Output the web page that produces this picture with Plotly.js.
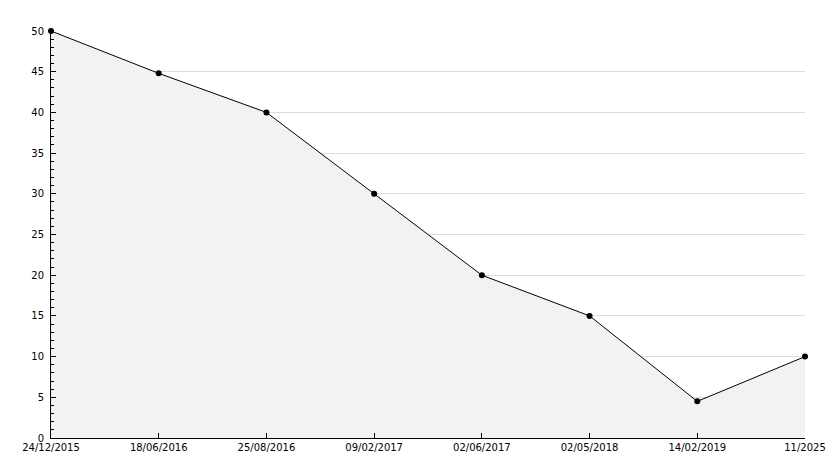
<!DOCTYPE html>
<html><head><meta charset="utf-8">
<script src="https://cdn.plot.ly/plotly-3.0.1.min.js"></script>
<style>html,body{margin:0;padding:0;background:#fff}#c{width:834px;height:468px}</style>
</head><body><div id="c"></div>
<script>
var dates = ['24/12/2015','18/06/2016','25/08/2016','09/02/2017','02/06/2017','02/05/2018','14/02/2019','11/2025'];
var values = [50, 44.8, 40, 30, 20, 15, 4.5, 10];
var yTicks = [0,5,10,15,20,25,30,35,40,45,50];

var lastX = dates[dates.length-1];
var traces = [
  {x: [lastX, lastX], y: [0, values[values.length-1]], type:'scatter', mode:'lines',
   line:{color:'#000', width:1}, hoverinfo:'none'},
  {x: dates, y: values, type:'scatter', mode:'lines+markers', fill:'tozeroy', cliponaxis:false,
   fillcolor:'#f2f2f2', line:{color:'#000', width:1},
   marker:{color:'#000', size:6, symbol:'circle'}, hoverinfo:'none'}
];
var font = {family:'DejaVu Sans, Verdana, sans-serif', size:10, color:'#000'};
var layout = {
  width:834, height:468, showlegend:false,
  paper_bgcolor:'#fff', plot_bgcolor:'#fff',
  margin:{l:51, r:29, t:31, b:30},
  font: font,
  xaxis:{type:'category', categoryorder:'array', categoryarray:dates,
    range:[0, dates.length-1], showgrid:false, zeroline:false,
    showline:true, linecolor:'#000', linewidth:1, ticks:'inside', ticklen:5, tickcolor:'#000',
    tickfont:font, fixedrange:true},
  yaxis:{range:[0,50], tickvals:yTicks, ticktext:yTicks.map(String), showgrid:true, gridcolor:'#dddddd',
    zeroline:false, showline:true, linecolor:'#000', linewidth:1, ticks:'inside', ticklen:5,
    tickcolor:'#000', tickfont:font, ticklabelstandoff:4,
    minor:{dtick:1, ticks:'inside', ticklen:3, tickcolor:'#000', showgrid:false}, fixedrange:true}
};
Plotly.newPlot('c', traces, layout, {staticPlot:true, displayModeBar:false});
</script></body></html>
